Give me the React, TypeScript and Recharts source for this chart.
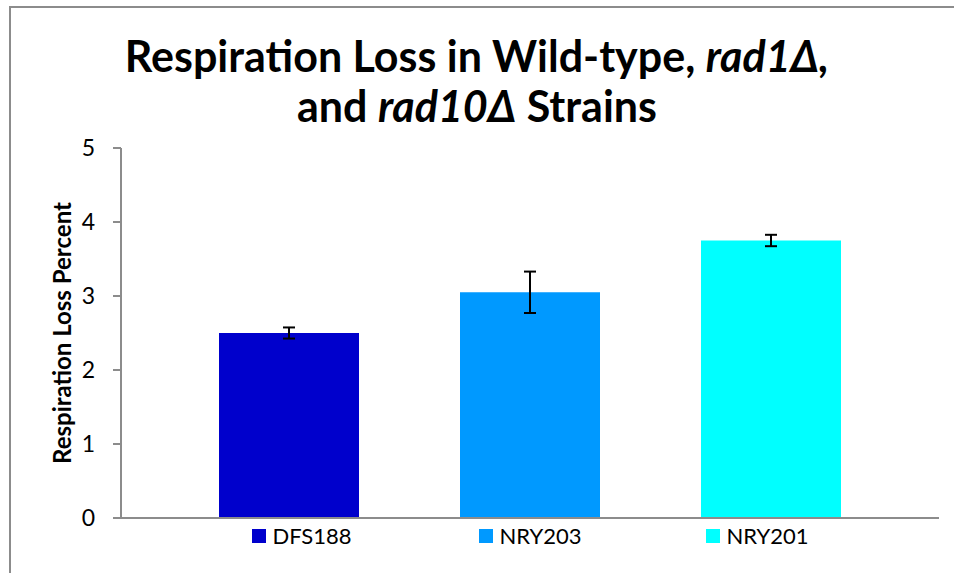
import React from "react";
import { Bar, BarChart, ErrorBar, Label, Legend, XAxis, YAxis } from "recharts";

// values
const strains = ["DFS188", "NRY203", "NRY201"];
const lossPercent = [2.5, 3.05, 3.75];
const lossError = [0.075, 0.28, 0.077];
const colors = ["#0000CC", "#0099FF", "#00FFFF"];
const yTicks = [0, 1, 2, 3, 4, 5];

const FONT = "Lato, 'Open Sans', sans-serif";
const AXIS_GRAY = "#8c8c8c";

// one category, one series per strain (as in the Excel original)
const row: Record<string, number | string> = { name: "" };
strains.forEach((s, i) => {
	row[s] = lossPercent[i];
	row[s + "_err"] = lossError[i];
});
const data = [row];

// legend keeps the series order (recharts would sort it by name)
const renderLegend = () => (
	<div
		style={{
			display: "flex",
			justifyContent: "center",
			gap: 124,
			fontFamily: FONT,
			fontSize: 22,
			color: "#000",
		}}
	>
		{strains.map((s, i) => (
			<div key={s} style={{ display: "flex", alignItems: "center", width: 103 }}>
				<span
					style={{
						display: "inline-block",
						width: 14,
						height: 14,
						background: colors[i],
						marginRight: 7,
					}}
				/>
				<span>{s}</span>
			</div>
		))}
	</div>
);

const App: React.FC = () => {
	return (
		<div
			style={{
				position: "absolute",
				left: 0,
				top: 0,
				width: 954,
				height: 573,
				background: "#fff",
				overflow: "hidden",
			}}
		>
			{/* frame */}
			<div
				style={{
					position: "absolute",
					left: 9,
					top: 6,
					right: 0,
					bottom: 0,
					borderTop: `2px solid ${AXIS_GRAY}`,
					borderLeft: `2px solid ${AXIS_GRAY}`,
				}}
			/>
			{/* title */}
			<div
				style={{
					position: "absolute",
					left: 0,
					top: 31,
					width: 954,
					textAlign: "center",
					fontFamily: FONT,
					fontWeight: 700,
					fontSize: 43,
					lineHeight: "50px",
					color: "#000",
				}}
			>
				Respiration Loss in Wild-type, <i>rad1Δ,</i>
				<br />
				and <i>rad10Δ</i> Strains
			</div>
			<BarChart
				width={954}
				height={573}
				data={data}
				margin={{ top: 148, right: 15, bottom: 25, left: 0 }}
				barGap={101}
				style={{ position: "absolute", left: 0, top: 0 }}
			>
				<XAxis
					dataKey="name"
					tick={false}
					tickLine={false}
					axisLine={{ stroke: AXIS_GRAY, strokeWidth: 2 }}
				/>
				<YAxis
					width={121}
					domain={[0, 5]}
					ticks={yTicks}
					interval={0}
					tickSize={8}
					tickMargin={18}
					axisLine={{ stroke: AXIS_GRAY, strokeWidth: 2 }}
					tickLine={{ stroke: AXIS_GRAY, strokeWidth: 2 }}
					tick={{ fontFamily: FONT, fontSize: 23, fill: "#000" }}
				>
					<Label
						value="Respiration Loss Percent"
						angle={-90}
						position="center"
						dx={2}
						style={{
							fontFamily: FONT,
							fontWeight: 700,
							fontSize: 24,
							fill: "#000",
						}}
					/>
				</YAxis>
				<Legend
					content={renderLegend}
					layout="horizontal"
					verticalAlign="middle"
					align="center"
					wrapperStyle={{ top: 522, left: 121, width: 818 }}
				/>
				{strains.map((s, i) => (
					<Bar
						key={s}
						dataKey={s}
						name={s}
						fill={colors[i]}
						barSize={140}
						isAnimationActive={false}
					>
						<ErrorBar
							dataKey={s + "_err"}
							width={6}
							stroke="#000"
							strokeWidth={2}
							direction="y"
						/>
					</Bar>
				))}
			</BarChart>
		</div>
	);
};

export default App;
